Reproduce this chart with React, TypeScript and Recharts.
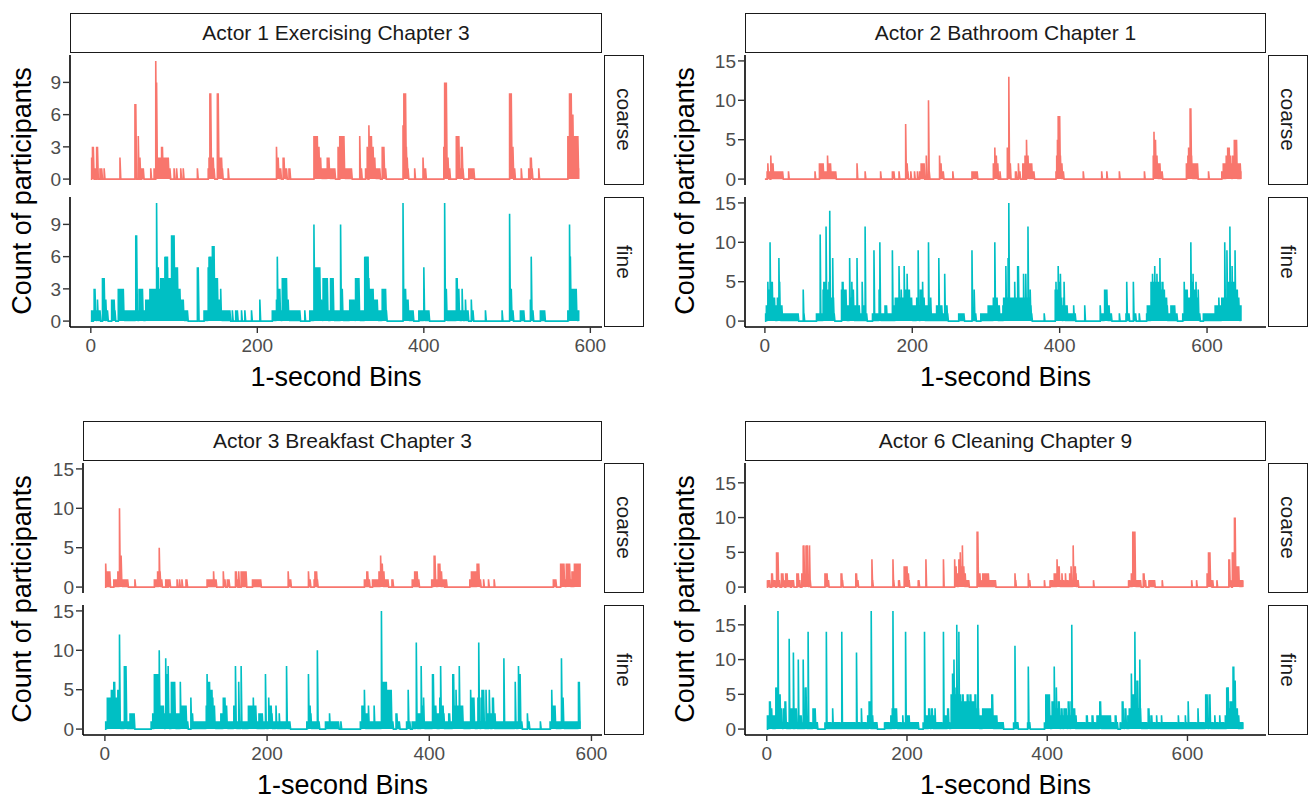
import { LineChart, Line, XAxis, YAxis } from "recharts";

// [first bin, last bin, count]; bins not listed are 0
type Run = [number, number, number];

const categories = ["coarse", "fine"];
const seriesColors = ["#F8766D", "#00BFC4"];
const xTicks = [0, 200, 400, 600];

const a1Title = "Actor 1 Exercising Chapter 3";
const a1Bins = 586;
const a1YTicks = [0, 3, 6, 9];
const a1Coarse: Run[] = [
  [1, 1, 2], [2, 3, 3], [5, 5, 1], [7, 8, 3], [11, 11, 1], [13, 13, 1], [16, 16, 1], [35, 35, 2],
  [53, 54, 7], [57, 57, 4], [59, 59, 2], [61, 63, 1], [72, 72, 1], [76, 76, 1], [78, 78, 11], [79, 79, 9],
  [80, 84, 2], [85, 86, 3], [87, 93, 2], [94, 95, 1], [100, 100, 1], [103, 103, 1], [108, 108, 1], [111, 111, 1],
  [128, 128, 1], [141, 141, 1], [142, 142, 2], [143, 144, 8], [145, 147, 2], [148, 148, 1], [152, 153, 8],
  [154, 157, 2], [158, 158, 1], [165, 165, 1], [223, 223, 3], [224, 225, 2], [226, 228, 1], [231, 232, 2],
  [233, 235, 1], [238, 239, 1], [268, 272, 4], [273, 274, 3], [275, 276, 2], [277, 283, 1], [284, 286, 2],
  [287, 293, 1], [297, 297, 3], [299, 304, 4], [305, 313, 1], [323, 323, 4], [325, 325, 1], [330, 331, 1],
  [332, 332, 3], [334, 334, 5], [335, 337, 4], [338, 339, 3], [340, 341, 2], [342, 347, 1], [350, 352, 3],
  [353, 354, 1], [375, 375, 5], [376, 378, 8], [379, 379, 3], [380, 380, 2], [381, 381, 1], [389, 389, 1],
  [399, 399, 2], [400, 400, 1], [402, 402, 1], [424, 424, 3], [425, 427, 9], [428, 429, 2], [431, 431, 1],
  [439, 442, 4], [443, 444, 1], [445, 446, 3], [447, 447, 1], [454, 460, 1], [503, 505, 8], [506, 507, 3],
  [509, 509, 1], [517, 517, 1], [526, 526, 1], [528, 529, 2], [530, 530, 1], [538, 538, 1], [573, 574, 4],
  [575, 577, 8], [578, 579, 6], [580, 585, 4], [586, 586, 1],
];
const a1Fine: Run[] = [
  [1, 1, 1], [3, 3, 1], [4, 5, 3], [6, 7, 1], [8, 8, 2], [9, 11, 1], [14, 16, 4], [17, 17, 1], [18, 18, 2],
  [19, 20, 1], [25, 28, 2], [29, 29, 1], [33, 39, 3], [40, 116, 1], [54, 55, 8], [58, 62, 3], [66, 70, 2],
  [71, 78, 3], [79, 79, 11], [80, 80, 3], [81, 81, 5], [82, 83, 3], [84, 87, 4], [88, 88, 3], [89, 92, 6],
  [93, 96, 4], [97, 100, 8], [101, 101, 3], [102, 104, 5], [105, 107, 3], [108, 111, 2], [128, 129, 5],
  [136, 140, 1], [141, 141, 5], [142, 144, 6], [145, 145, 3], [146, 148, 7], [149, 149, 3], [150, 152, 4],
  [153, 155, 2], [156, 156, 3], [157, 167, 1], [170, 170, 1], [174, 174, 1], [176, 176, 1], [181, 181, 1],
  [185, 185, 1], [193, 193, 1], [203, 203, 2], [218, 222, 1], [223, 223, 2], [224, 224, 6], [225, 225, 2],
  [226, 227, 3], [228, 229, 1], [230, 235, 4], [236, 237, 2], [238, 251, 1], [257, 257, 1], [263, 267, 1],
  [268, 268, 9], [269, 269, 3], [270, 275, 5], [276, 277, 2], [278, 278, 1], [279, 284, 4], [285, 287, 1],
  [288, 291, 4], [292, 299, 1], [300, 300, 9], [301, 302, 3], [303, 310, 1], [311, 316, 2], [317, 317, 1],
  [318, 322, 4], [323, 328, 1], [329, 333, 6], [334, 334, 4], [335, 339, 3], [340, 344, 2], [345, 349, 1],
  [350, 354, 3], [355, 355, 1], [375, 375, 11], [376, 378, 3], [379, 381, 2], [382, 387, 1], [394, 399, 1],
  [400, 400, 5], [401, 406, 1], [425, 425, 11], [426, 427, 3], [428, 438, 1], [439, 440, 4], [441, 442, 3],
  [443, 445, 1], [446, 446, 3], [447, 449, 1], [450, 450, 2], [451, 453, 1], [457, 457, 2], [458, 459, 1],
  [474, 474, 1], [494, 494, 1], [503, 503, 10], [504, 505, 3], [506, 507, 1], [516, 520, 1], [528, 528, 2],
  [529, 529, 6], [530, 531, 1], [540, 545, 1], [573, 574, 1], [575, 575, 9], [576, 576, 6], [577, 583, 3],
  [584, 586, 1],
];

const a2Title = "Actor 2 Bathroom Chapter 1";
const a2Bins = 646;
const a2YTicks = [0, 5, 10, 15];
const a2Coarse: Run[] = [
  [3, 3, 1], [4, 4, 2], [5, 6, 1], [8, 8, 3], [9, 11, 2], [12, 24, 1], [32, 32, 1], [68, 68, 1], [74, 79, 2],
  [80, 84, 1], [85, 85, 3], [86, 89, 2], [90, 96, 1], [125, 125, 2], [136, 136, 1], [157, 157, 1], [173, 175, 1],
  [182, 182, 1], [191, 191, 7], [192, 193, 2], [194, 194, 1], [198, 198, 1], [203, 203, 1], [207, 207, 1],
  [210, 211, 1], [212, 216, 2], [219, 219, 3], [222, 222, 10], [223, 223, 1], [237, 237, 3], [238, 239, 2],
  [240, 242, 1], [255, 255, 1], [281, 288, 1], [310, 311, 2], [312, 312, 4], [313, 314, 3], [315, 316, 2],
  [319, 319, 1], [329, 329, 4], [330, 330, 1], [331, 331, 13], [332, 333, 2], [340, 341, 1], [344, 344, 2],
  [345, 346, 1], [350, 351, 2], [353, 353, 3], [355, 355, 5], [356, 357, 3], [358, 362, 2], [363, 365, 1],
  [395, 395, 1], [396, 396, 3], [397, 397, 5], [398, 400, 8], [401, 401, 3], [402, 403, 2], [404, 405, 1],
  [432, 432, 1], [457, 457, 1], [464, 464, 1], [481, 481, 1], [515, 515, 1], [527, 527, 3], [528, 528, 6],
  [529, 530, 5], [531, 532, 3], [533, 536, 2], [537, 539, 1], [572, 573, 2], [574, 574, 3], [575, 576, 4],
  [577, 578, 9], [579, 579, 3], [580, 587, 2], [602, 602, 1], [620, 621, 1], [622, 625, 2], [626, 627, 3],
  [628, 630, 4], [631, 632, 3], [633, 634, 2], [635, 636, 3], [637, 640, 5], [641, 645, 2], [646, 646, 1],
];
const a2Fine: Run[] = [
  [1, 1, 1], [2, 3, 2], [4, 4, 5], [5, 6, 4], [7, 7, 10], [8, 8, 3], [9, 10, 5], [11, 13, 3], [14, 16, 2],
  [17, 18, 3], [19, 19, 8], [20, 20, 5], [21, 23, 2], [24, 45, 1], [52, 52, 4], [53, 53, 1], [70, 74, 1],
  [75, 75, 11], [76, 78, 1], [79, 79, 4], [80, 82, 5], [83, 83, 12], [84, 86, 4], [87, 87, 5], [88, 88, 14],
  [89, 91, 3], [92, 92, 8], [93, 93, 3], [94, 94, 1], [104, 104, 4], [105, 106, 5], [107, 110, 4], [111, 114, 2],
  [115, 115, 8], [116, 117, 3], [118, 118, 5], [119, 119, 3], [120, 120, 4], [121, 124, 2], [125, 125, 8],
  [126, 128, 2], [129, 131, 1], [132, 132, 5], [133, 135, 2], [136, 136, 12], [137, 138, 1], [146, 147, 1],
  [148, 148, 9], [149, 154, 1], [155, 155, 4], [156, 156, 10], [157, 162, 1], [163, 165, 2], [166, 172, 1],
  [173, 173, 9], [174, 176, 2], [177, 181, 3], [182, 182, 7], [183, 184, 3], [185, 185, 4], [186, 188, 3],
  [189, 189, 7], [190, 192, 4], [193, 193, 6], [194, 196, 4], [197, 199, 3], [200, 205, 2], [206, 207, 3],
  [208, 208, 9], [209, 210, 2], [211, 213, 4], [214, 214, 5], [215, 216, 3], [217, 221, 2], [222, 222, 10],
  [223, 224, 2], [225, 225, 3], [226, 232, 1], [233, 235, 2], [236, 236, 8], [237, 240, 2], [241, 243, 1],
  [244, 244, 6], [245, 247, 2], [248, 248, 1], [263, 270, 1], [281, 281, 9], [282, 283, 1], [284, 284, 4],
  [285, 286, 1], [293, 302, 1], [303, 309, 2], [310, 311, 3], [312, 312, 10], [313, 315, 3], [316, 318, 2],
  [319, 322, 1], [323, 323, 2], [324, 326, 3], [327, 327, 7], [328, 329, 3], [330, 330, 8], [331, 331, 15],
  [332, 338, 3], [339, 339, 5], [340, 342, 3], [343, 344, 7], [345, 350, 3], [351, 351, 6], [352, 353, 3],
  [354, 354, 6], [355, 356, 3], [357, 357, 12], [358, 359, 3], [360, 360, 4], [361, 361, 2], [362, 362, 1],
  [379, 379, 1], [394, 394, 4], [395, 395, 5], [396, 397, 4], [398, 398, 7], [399, 400, 5], [401, 401, 6],
  [402, 402, 3], [403, 404, 2], [405, 405, 3], [406, 406, 5], [407, 410, 2], [411, 418, 1], [419, 419, 2],
  [420, 421, 1], [434, 434, 2], [455, 455, 2], [456, 460, 1], [461, 464, 4], [465, 467, 2], [468, 470, 1],
  [481, 481, 1], [490, 490, 1], [491, 491, 5], [492, 494, 1], [500, 500, 5], [501, 503, 1], [508, 508, 1],
  [518, 518, 1], [519, 523, 2], [524, 525, 5], [526, 526, 6], [527, 528, 5], [529, 529, 7], [530, 531, 5],
  [532, 532, 6], [533, 535, 5], [536, 536, 8], [537, 538, 4], [539, 540, 5], [541, 542, 4], [543, 545, 3],
  [546, 546, 2], [547, 550, 1], [551, 556, 2], [557, 559, 1], [567, 568, 1], [569, 569, 5], [570, 573, 4],
  [574, 577, 3], [578, 578, 10], [579, 580, 5], [581, 581, 6], [582, 584, 4], [585, 585, 5], [586, 587, 3],
  [588, 588, 4], [589, 590, 1], [595, 610, 1], [611, 615, 2], [616, 616, 3], [617, 619, 2], [620, 623, 3],
  [624, 624, 10], [625, 626, 3], [627, 627, 9], [628, 630, 5], [631, 631, 12], [632, 633, 5], [634, 634, 7],
  [635, 637, 5], [638, 638, 9], [639, 641, 4], [642, 643, 3], [644, 646, 2],
];

const a3Title = "Actor 3 Breakfast Chapter 3";
const a3Bins = 586;
const a3YTicks = [0, 5, 10, 15];
const a3Coarse: Run[] = [
  [1, 1, 3], [2, 6, 2], [11, 15, 1], [16, 17, 2], [18, 18, 10], [19, 20, 4], [21, 28, 1], [37, 37, 1],
  [61, 64, 1], [65, 66, 2], [67, 67, 5], [68, 68, 2], [69, 70, 1], [75, 76, 1], [78, 80, 1], [89, 89, 1],
  [92, 92, 1], [95, 95, 1], [100, 101, 1], [126, 133, 1], [134, 134, 2], [135, 137, 1], [146, 146, 2],
  [147, 148, 1], [151, 153, 1], [161, 162, 2], [163, 163, 1], [165, 165, 2], [168, 174, 2], [182, 192, 1],
  [226, 226, 2], [227, 229, 1], [251, 251, 2], [252, 253, 1], [258, 258, 1], [259, 261, 2], [262, 262, 1],
  [320, 322, 1], [323, 324, 2], [325, 326, 1], [330, 337, 1], [338, 339, 2], [340, 340, 4], [341, 342, 3],
  [343, 344, 2], [345, 349, 1], [354, 355, 1], [379, 381, 1], [382, 385, 2], [386, 387, 1], [403, 405, 1],
  [406, 407, 4], [408, 410, 1], [411, 413, 3], [414, 415, 2], [416, 418, 1], [420, 421, 1], [450, 451, 1],
  [452, 458, 2], [459, 461, 3], [462, 463, 1], [467, 467, 1], [473, 473, 1], [480, 480, 1], [553, 556, 1],
  [562, 566, 3], [567, 568, 1], [569, 573, 3], [574, 575, 1], [576, 578, 2], [579, 586, 3],
];
const a3Fine: Run[] = [
  [1, 2, 1], [3, 7, 4], [8, 10, 5], [11, 12, 6], [13, 15, 4], [16, 17, 5], [18, 18, 12], [19, 23, 1],
  [24, 26, 8], [27, 30, 1], [31, 36, 2], [57, 58, 1], [59, 60, 2], [61, 66, 7], [67, 67, 10], [68, 72, 3],
  [73, 74, 2], [75, 75, 9], [76, 77, 7], [78, 78, 8], [79, 81, 2], [82, 86, 6], [87, 92, 2], [93, 93, 6],
  [94, 100, 3], [101, 102, 1], [106, 106, 4], [107, 108, 2], [109, 124, 1], [125, 125, 3], [126, 126, 7],
  [127, 129, 6], [130, 132, 5], [133, 133, 4], [134, 135, 3], [136, 142, 1], [143, 145, 2], [146, 148, 4],
  [149, 150, 3], [151, 158, 1], [159, 160, 3], [161, 161, 8], [162, 164, 1], [165, 165, 6], [166, 167, 1],
  [168, 168, 8], [169, 176, 1], [177, 182, 3], [183, 183, 4], [184, 186, 3], [187, 189, 1], [190, 194, 2],
  [195, 197, 1], [198, 198, 7], [199, 201, 1], [202, 202, 4], [203, 205, 3], [206, 206, 2], [207, 210, 1],
  [211, 211, 3], [212, 214, 1], [215, 215, 2], [216, 223, 1], [224, 224, 8], [225, 228, 1], [249, 250, 1],
  [251, 251, 7], [252, 253, 3], [254, 254, 2], [255, 261, 1], [262, 262, 10], [263, 264, 1], [272, 276, 1],
  [277, 277, 2], [278, 288, 1], [291, 291, 1], [315, 316, 1], [317, 319, 3], [320, 320, 5], [321, 324, 2],
  [325, 325, 3], [326, 331, 1], [332, 332, 3], [333, 340, 1], [341, 341, 15], [342, 347, 6], [348, 353, 5],
  [354, 355, 1], [359, 360, 2], [361, 363, 1], [372, 373, 1], [374, 374, 5], [375, 376, 1], [379, 383, 1],
  [384, 384, 11], [385, 389, 2], [390, 390, 8], [391, 392, 3], [393, 393, 4], [394, 403, 1], [404, 405, 7],
  [406, 408, 3], [409, 412, 2], [413, 413, 4], [414, 414, 8], [415, 417, 3], [418, 418, 2], [419, 423, 1],
  [424, 425, 2], [426, 428, 1], [429, 430, 7], [431, 432, 3], [433, 433, 5], [434, 436, 3], [437, 437, 8],
  [438, 441, 3], [442, 450, 1], [451, 451, 5], [452, 455, 4], [456, 459, 1], [460, 460, 4], [461, 461, 11],
  [462, 463, 1], [464, 464, 4], [465, 467, 5], [468, 469, 1], [470, 470, 5], [471, 473, 2], [474, 474, 5],
  [475, 477, 2], [478, 479, 4], [480, 481, 2], [482, 491, 1], [492, 492, 9], [493, 505, 1], [506, 506, 6],
  [507, 509, 1], [510, 510, 8], [511, 512, 7], [513, 514, 1], [521, 521, 2], [522, 523, 1], [537, 537, 1],
  [549, 550, 1], [551, 551, 5], [552, 555, 3], [556, 562, 1], [563, 563, 9], [564, 565, 4], [566, 583, 1],
  [584, 585, 6], [586, 586, 1],
];

const a6Title = "Actor 6 Cleaning Chapter 9";
const a6Bins = 679;
const a6YTicks = [0, 5, 10, 15];
const a6Coarse: Run[] = [
  [1, 4, 1], [7, 8, 2], [9, 12, 1], [14, 16, 5], [17, 18, 1], [21, 23, 2], [24, 25, 1], [27, 29, 2],
  [30, 33, 1], [35, 38, 1], [43, 45, 2], [46, 47, 1], [50, 51, 2], [52, 53, 6], [54, 55, 1], [56, 58, 6],
  [59, 60, 1], [61, 61, 6], [62, 62, 1], [83, 86, 2], [87, 88, 1], [106, 107, 2], [108, 108, 1], [127, 128, 2],
  [129, 130, 1], [150, 150, 4], [151, 151, 1], [180, 180, 4], [181, 181, 1], [188, 189, 1], [196, 200, 3],
  [201, 202, 2], [203, 203, 1], [216, 217, 1], [227, 227, 4], [252, 252, 4], [268, 268, 4], [269, 270, 3],
  [271, 273, 2], [274, 275, 4], [276, 276, 5], [277, 278, 3], [279, 279, 6], [280, 281, 3], [282, 283, 2],
  [284, 288, 1], [300, 301, 8], [302, 304, 2], [305, 307, 1], [308, 316, 2], [317, 326, 1], [354, 354, 2],
  [355, 355, 1], [373, 373, 2], [374, 375, 1], [396, 396, 1], [404, 409, 1], [410, 413, 2], [414, 414, 4],
  [415, 417, 3], [418, 420, 1], [421, 421, 2], [422, 425, 1], [426, 426, 2], [427, 431, 1], [432, 433, 2],
  [434, 434, 3], [435, 436, 1], [437, 437, 6], [438, 440, 3], [441, 441, 2], [442, 444, 1], [466, 466, 1],
  [516, 519, 1], [520, 521, 2], [522, 525, 8], [526, 533, 1], [537, 538, 2], [539, 540, 1], [545, 553, 1],
  [564, 564, 1], [606, 606, 1], [613, 613, 1], [628, 629, 2], [630, 632, 5], [633, 634, 1], [636, 636, 1],
  [642, 642, 1], [659, 660, 4], [661, 662, 1], [664, 666, 5], [667, 668, 10], [669, 673, 3], [674, 679, 1],
];
const a6Fine: Run[] = [
  [1, 3, 2], [4, 5, 4], [6, 7, 3], [8, 12, 2], [13, 15, 6], [16, 16, 17], [17, 19, 5], [20, 21, 3], [22, 23, 1],
  [24, 25, 3], [26, 27, 4], [28, 31, 1], [32, 32, 13], [33, 34, 1], [35, 36, 3], [37, 37, 1], [38, 38, 11],
  [39, 40, 1], [41, 42, 3], [43, 44, 1], [45, 45, 10], [46, 47, 1], [48, 49, 2], [50, 51, 1], [52, 52, 10],
  [53, 54, 1], [55, 56, 6], [57, 58, 1], [59, 59, 14], [60, 65, 1], [66, 69, 3], [70, 72, 1], [83, 84, 1],
  [85, 85, 14], [86, 93, 1], [94, 94, 3], [95, 106, 1], [107, 107, 14], [108, 127, 1], [128, 128, 11],
  [129, 134, 1], [135, 135, 3], [136, 143, 1], [144, 145, 2], [146, 147, 4], [148, 148, 2], [149, 149, 17],
  [150, 151, 2], [152, 157, 1], [168, 176, 1], [177, 178, 2], [179, 179, 3], [180, 180, 17], [181, 181, 2],
  [182, 185, 3], [186, 193, 1], [194, 194, 2], [195, 197, 1], [198, 198, 14], [199, 203, 2], [204, 216, 1],
  [223, 224, 1], [225, 225, 14], [226, 230, 2], [231, 232, 3], [233, 234, 2], [235, 236, 3], [237, 239, 2],
  [240, 240, 3], [241, 251, 1], [252, 252, 14], [253, 257, 2], [258, 259, 3], [260, 262, 1], [263, 264, 5],
  [265, 266, 8], [267, 267, 10], [268, 269, 5], [270, 270, 6], [271, 271, 15], [272, 273, 5], [274, 274, 14],
  [275, 276, 5], [277, 278, 4], [279, 280, 5], [281, 285, 4], [286, 287, 5], [288, 289, 4], [290, 291, 5],
  [292, 296, 4], [297, 298, 5], [299, 300, 3], [301, 301, 15], [302, 302, 3], [303, 307, 2], [308, 320, 3],
  [321, 322, 5], [323, 328, 2], [329, 337, 1], [352, 353, 1], [354, 354, 12], [355, 358, 1], [372, 372, 1],
  [373, 373, 9], [374, 375, 1], [396, 397, 1], [398, 403, 5], [404, 406, 2], [407, 409, 4], [410, 410, 9],
  [411, 412, 3], [413, 413, 6], [414, 415, 3], [416, 417, 4], [418, 419, 2], [420, 421, 3], [422, 423, 2],
  [424, 427, 3], [428, 429, 2], [430, 431, 4], [432, 433, 2], [434, 434, 4], [435, 435, 15], [436, 439, 3],
  [440, 441, 2], [442, 455, 1], [456, 457, 2], [458, 463, 1], [464, 465, 2], [466, 470, 1], [471, 474, 2],
  [475, 476, 4], [477, 490, 2], [491, 496, 1], [497, 498, 2], [499, 500, 1], [504, 506, 1], [507, 508, 4],
  [509, 510, 1], [511, 512, 3], [513, 514, 1], [515, 516, 2], [517, 519, 3], [520, 520, 8], [521, 524, 5],
  [525, 525, 14], [526, 527, 3], [528, 529, 7], [530, 531, 3], [532, 532, 10], [533, 533, 3], [534, 543, 1],
  [544, 545, 3], [546, 547, 1], [548, 549, 2], [550, 555, 1], [556, 556, 2], [557, 562, 1], [563, 563, 2],
  [564, 586, 1], [587, 587, 2], [588, 596, 1], [597, 597, 2], [598, 600, 1], [601, 601, 4], [602, 614, 1],
  [615, 615, 3], [616, 625, 1], [626, 628, 5], [629, 630, 1], [631, 632, 5], [633, 638, 1], [639, 639, 2],
  [640, 645, 1], [646, 646, 2], [647, 653, 1], [654, 655, 2], [656, 658, 6], [659, 660, 3], [661, 664, 4],
  [665, 666, 9], [667, 668, 7], [669, 671, 3], [672, 673, 2], [674, 679, 1],
];

// each bin is drawn as a rise from 0 to its count, as in the original line plot
const toSeries = (bins: number, runs: Run[]) => {
  const counts: number[] = new Array(bins + 1).fill(0);
  runs.forEach(([from, to, n]) => {
    for (let i = from; i <= to; i++) counts[i] = n;
  });
  const rows: { bin: number; count: number }[] = [];
  counts.forEach((count, bin) => {
    rows.push({ bin, count: 0 });
    rows.push({ bin, count });
  });
  return rows;
};

const FONT = "'Liberation Sans', Arial, Helvetica, sans-serif";
const AXW = 60;
const PAD_R = 24; // room for the last x tick label
const PAD_B = 12; // room for the "0" label of the upper panel
const PAD_T = 12; // room for the top y tick label
const HEADER_H = 40;
const PANEL_H = 130;
const PANEL_GAP = 12;
const STRIP_W = 40;

const boxStyle: React.CSSProperties = {
  position: "absolute",
  border: "1.6px solid #1a1a1a",
  boxSizing: "border-box",
  background: "#fff",
  color: "#1a1a1a",
  fontSize: 21,
  display: "flex",
  alignItems: "center",
  justifyContent: "center",
};

const tickStyle = { fill: "#4d4d4d", fontSize: 19, fontFamily: FONT };

const Facet: React.FC<{
  title: string;
  bins: number;
  coarse: Run[];
  fine: Run[];
  xDomain: number[];
  yMax: number;
  yTicks: number[];
  left: number;
  right: number;
  top: number;
  labelX: number;
}> = ({ title, bins, coarse, fine, xDomain, yMax, yTicks, left, right, top, labelX }) => {
  const plotW = right - left;
  const yDomain = [-0.05 * yMax, 1.05 * yMax];
  const coarseTop = top + HEADER_H + 2;
  const fineTop = coarseTop + PANEL_H + PANEL_GAP;
  const sets = [coarse, fine];

  return (
    <>
      <div style={{ ...boxStyle, left, top, width: plotW, height: HEADER_H }}>{title}</div>
      {categories.map((cat, i) => {
        const panelTop = i === 0 ? coarseTop : fineTop;
        const showX = i === 1;
        return (
          <div key={cat}>
            <div
              style={{
                ...boxStyle,
                left: right + 2,
                top: panelTop,
                width: STRIP_W,
                height: PANEL_H,
                writingMode: "vertical-rl",
              }}
            >
              {cat}
            </div>
            <div style={{ position: "absolute", left: left - AXW, top: panelTop - PAD_T }}>
              <LineChart
                width={plotW + AXW + PAD_R}
                height={PAD_T + PANEL_H + (showX ? 44 : PAD_B)}
                data={toSeries(bins, sets[i])}
                margin={{ top: PAD_T, right: PAD_R, bottom: showX ? 0 : PAD_B, left: 0 }}
              >
                <XAxis
                  dataKey="bin"
                  type="number"
                  domain={xDomain}
                  allowDataOverflow
                  ticks={xTicks}
                  interval={0}
                  hide={!showX}
                  height={44}
                  tickSize={6}
                  tickMargin={6}
                  axisLine={{ stroke: "#000", strokeWidth: 1.6 }}
                  tickLine={{ stroke: "#333", strokeWidth: 1.4 }}
                  tick={tickStyle}
                />
                <YAxis
                  type="number"
                  domain={yDomain}
                  allowDataOverflow
                  ticks={yTicks}
                  interval={0}
                  width={AXW}
                  tickSize={7}
                  tickMargin={2}
                  axisLine={{ stroke: "#000", strokeWidth: 1.6 }}
                  tickLine={{ stroke: "#333", strokeWidth: 1.4 }}
                  tick={tickStyle}
                />
                <Line
                  dataKey="count"
                  type="linear"
                  stroke={seriesColors[i]}
                  strokeWidth={1.6}
                  dot={false}
                  isAnimationActive={false}
                />
              </LineChart>
            </div>
          </div>
        );
      })}
      <div
        style={{
          position: "absolute",
          left: labelX - 170,
          top: coarseTop + PANEL_H + PANEL_GAP / 2 - 18,
          width: 340,
          height: 36,
          lineHeight: "36px",
          transform: "rotate(-90deg)",
          textAlign: "center",
          fontSize: 27,
          color: "#000",
          whiteSpace: "nowrap",
        }}
      >
        Count of participants
      </div>
      <div
        style={{
          position: "absolute",
          left,
          width: plotW,
          top: fineTop + PANEL_H + 33,
          height: 34,
          lineHeight: "34px",
          textAlign: "center",
          fontSize: 27,
          color: "#000",
        }}
      >
        1-second Bins
      </div>
    </>
  );
};

export default function App() {
  return (
    <div
      style={{
        position: "absolute",
        left: 0,
        top: 0,
        width: 1309,
        height: 801,
        background: "#fff",
        fontFamily: FONT,
        overflow: "hidden",
      }}
    >
      <Facet title={a1Title} bins={a1Bins} coarse={a1Coarse} fine={a1Fine} xDomain={[-25, 614]} yMax={11} yTicks={a1YTicks} left={70} right={602} top={13} labelX={22} />
      <Facet title={a2Title} bins={a2Bins} coarse={a2Coarse} fine={a2Fine} xDomain={[-27, 680]} yMax={15} yTicks={a2YTicks} left={745} right={1266} top={13} labelX={685} />
      <Facet title={a3Title} bins={a3Bins} coarse={a3Coarse} fine={a3Fine} xDomain={[-27, 613]} yMax={15} yTicks={a3YTicks} left={83} right={602} top={421} labelX={22} />
      <Facet title={a6Title} bins={a6Bins} coarse={a6Coarse} fine={a6Fine} xDomain={[-31, 712]} yMax={17} yTicks={a6YTicks} left={745} right={1266} top={421} labelX={685} />
    </div>
  );
}
